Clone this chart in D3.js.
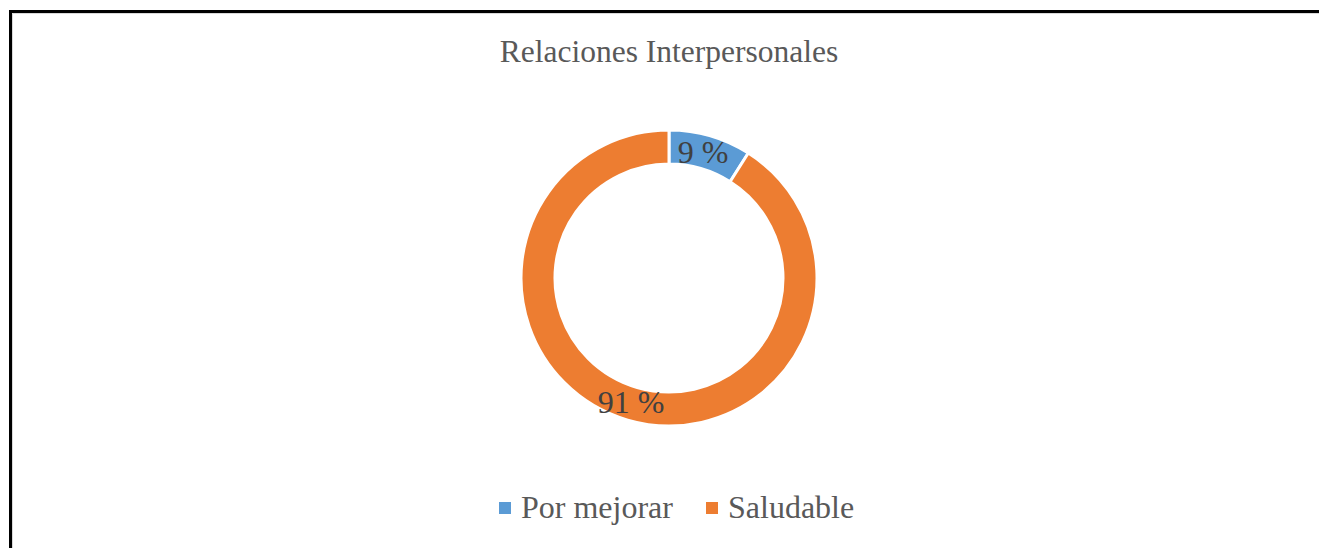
<!DOCTYPE html>
<html><head><meta charset="utf-8">
<script src="https://cdn.jsdelivr.net/npm/d3@7"></script>
<style>html,body{margin:0;padding:0;background:#fff;}svg{display:block;}</style>
</head><body>
<svg id="chart" width="1319" height="548"></svg>
<script>
const categories = ["Por mejorar", "Saludable"];
const values = [9, 91];
const labels = ["9 %", "91 %"];
const colors = ["#5B9BD5", "#ED7D31"];
const title = "Relaciones Interpersonales";

const svg = d3.select("#chart");
const font = "'Liberation Serif','Times New Roman',serif";

// frame
svg.append("line").attr("x1",12.5).attr("y1",13.5).attr("x2",1319).attr("y2",13.5).attr("stroke","#d9d9d9").attr("stroke-width",1);
svg.append("line").attr("x1",12.5).attr("y1",13.5).attr("x2",12.5).attr("y2",548).attr("stroke","#d9d9d9").attr("stroke-width",1);
svg.append("line").attr("x1",9).attr("y1",11.5).attr("x2",1319).attr("y2",11.5).attr("stroke","#000").attr("stroke-width",3);
svg.append("line").attr("x1",10.5).attr("y1",10).attr("x2",10.5).attr("y2",548).attr("stroke","#000").attr("stroke-width",3);

svg.append("text").attr("x",669).attr("y",62).attr("text-anchor","middle")
  .attr("font-family",font).attr("font-size",31.5).attr("fill","#595959").text(title);

const cx = 669, cy = 278, rOut = 148, rIn = 114;
const pie = d3.pie().sort(null).value(d=>d)(values);
const arc = d3.arc().innerRadius(rIn).outerRadius(rOut);
const g = svg.append("g").attr("transform",`translate(${cx},${cy})`);
g.selectAll("path").data(pie).enter().append("path")
  .attr("d",arc).attr("fill",(d,i)=>colors[i]).attr("stroke","#fff").attr("stroke-width",3);

const labelPos = [[34,-115],[-38,135]];
g.selectAll("text.lbl").data(pie).enter().append("text")
  .attr("x",(d,i)=>labelPos[i][0]).attr("y",(d,i)=>labelPos[i][1])
  .attr("text-anchor","middle").attr("font-family",font).attr("font-size",32).attr("fill","#404040")
  .text((d,i)=>labels[i]);

// legend
const legX = [499, 706];
const leg = svg.append("g");
categories.forEach((c,i)=>{
  leg.append("rect").attr("x",legX[i]).attr("y",502).attr("width",12).attr("height",12).attr("fill",colors[i]);
  leg.append("text").attr("x",legX[i]+22).attr("y",518).attr("font-family",font).attr("font-size",32).attr("fill","#595959").text(c);
});
</script>
</body></html>
